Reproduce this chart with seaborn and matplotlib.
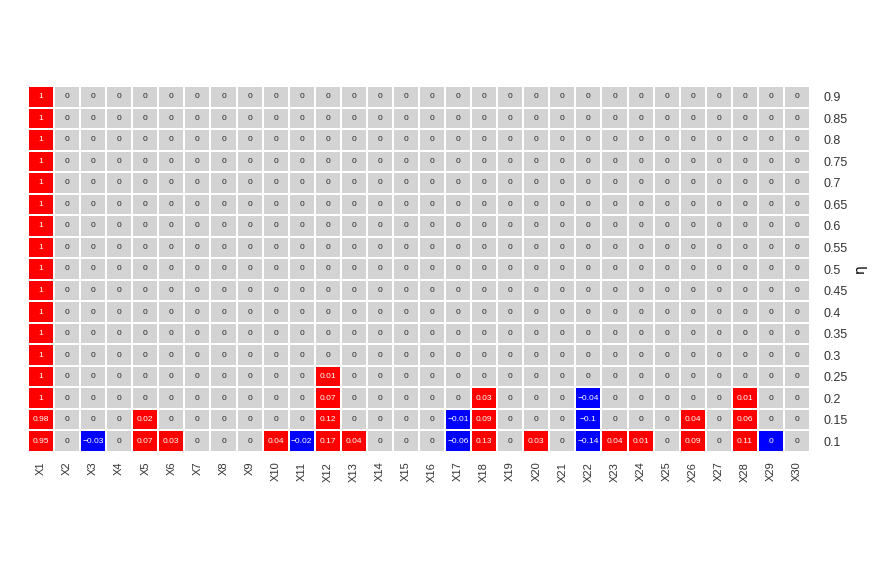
import numpy as np
import pandas as pd
import matplotlib
matplotlib.use("Agg")
import matplotlib.pyplot as plt
import seaborn as sns
from matplotlib.colors import ListedColormap

# eta levels (rows, top to bottom) and variable names (columns)
eta = ["0.9", "0.85", "0.8", "0.75", "0.7", "0.65", "0.6", "0.55", "0.5",
       "0.45", "0.4", "0.35", "0.3", "0.25", "0.2", "0.15", "0.1"]
variables = ["X%d" % i for i in range(1, 31)]

# coefficient rows
row_high = [1] + [0] * 29     # 0.9 ... 0.3 are all the same
row_025 = [1, 0, 0, 0, 0, 0, 0, 0, 0, 0, 0, 0.01, 0, 0, 0, 0, 0, 0, 0, 0,
           0, 0, 0, 0, 0, 0, 0, 0, 0, 0]
row_020 = [1, 0, 0, 0, 0, 0, 0, 0, 0, 0, 0, 0.07, 0, 0, 0, 0, 0, 0.03, 0, 0,
           0, -0.04, 0, 0, 0, 0, 0, 0.01, 0, 0]
row_015 = [0.98, 0, 0, 0, 0.02, 0, 0, 0, 0, 0, 0, 0.12, 0, 0, 0, 0, -0.01, 0.09, 0, 0,
           0, -0.1, 0, 0, 0, 0.04, 0, 0.06, 0, 0]
row_010 = [0.95, 0, -0.03, 0, 0.07, 0.03, 0, 0, 0, 0.04, -0.02, 0.17, 0.04, 0, 0, 0, -0.06, 0.13, 0, 0.03,
           0, -0.14, 0.04, 0.01, 0, 0.09, 0, 0.11, -0.001, 0]

rows = [row_high] * 13 + [row_025, row_020, row_015, row_010]
coef = pd.DataFrame(rows, index=eta, columns=variables)


def fmt_val(v):
    s = "%.2f" % v
    s = s.rstrip("0").rstrip(".")
    if s in ("-0", "0", ""):
        return "0"
    return s.replace("-", "\u2212")


labels = coef.map(fmt_val)
sign = np.sign(coef)

fig = plt.figure(figsize=(8.72, 5.79), dpi=100)
ax = fig.add_axes([28 / 872, 1 - 452 / 579, 782 / 872, 366 / 579])
sns.heatmap(sign, ax=ax, cmap=ListedColormap(["#0000FF", "#D3D3D3", "#FF0000"]),
            vmin=-1.5, vmax=1.5, cbar=False, annot=labels, fmt="",
            annot_kws={"fontsize": 6, "family": "Liberation Sans"},
            linewidths=1.2, linecolor="white")

ax.yaxis.tick_right()
ax.yaxis.set_label_position("right")
ax.set_yticklabels(eta, rotation=0, fontsize=9, color="#333333", family="Liberation Sans")
ax.set_xticklabels(variables, rotation=90, fontsize=8, color="#333333", family="Liberation Sans")
ax.tick_params(length=0, pad=7)
ax.tick_params(axis="y", pad=10)
ax.set_xlabel("")
ax.set_ylabel("\u03b7", rotation=90, fontsize=10, va="center")
ax.yaxis.set_label_coords(1.064, 0.5)

fig.savefig("out.png", dpi=100)
